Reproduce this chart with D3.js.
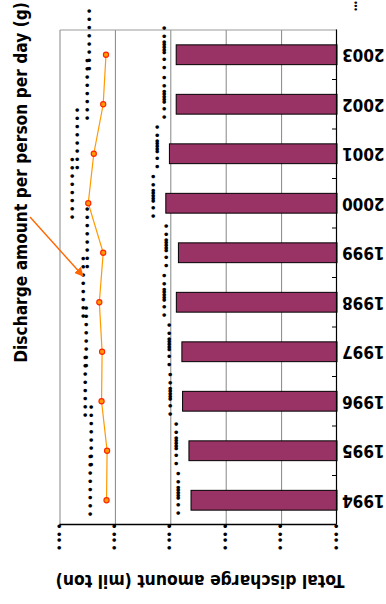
<!DOCTYPE html>
<html>
<head>
<meta charset="utf-8">
<script src="https://cdn.jsdelivr.net/npm/d3@7"></script>
<style>
  html, body { margin: 0; padding: 0; background: #fff; }
  svg { display: block; }
  .cond { font-family: 'DejaVu Sans Condensed', 'DejaVu Sans', sans-serif; font-stretch: condensed; font-weight: bold; }
  .dots { font-family: 'DejaVu Sans', sans-serif; }
</style>
</head>
<body>
<script>
// Fiscal years shown on the category axis
const years = ['1994', '1995', '1996', '1997', '1998', '1999', '2000', '2001', '2002', '2003'];
// Total discharge amount, million tons (bars)
const totalDischarge = [50.54, 50.69, 51.15, 51.20, 51.60, 51.45, 52.36, 52.10, 51.61, 51.61];
// Discharge amount per person per day, grams (line)
const perPersonDay = [1116, 1115, 1125, 1124, 1129, 1122, 1149, 1139, 1122, 1117];
// Value axis ticks (primary and secondary)
const amountTicks = [40, 44, 48, 52, 56, 60];
const perPersonDomain = [700, 1200];
// Texts
const amountTitle = 'Total discharge amount (mil ton)';
const perPersonTitle = 'Discharge amount per person per day (g)';
// Dotted glyph runs used for the tick labels and data labels
const tickGlyphs = '••••';
const barLabelGlyphs = '•••••••••';
const lineLabelGlyphs = '••••••••';
const cornerGlyphs = '•••';

const W = 386, H = 604;
const svg = d3.select('body').append('svg').attr('width', W).attr('height', H);
svg.append('rect').attr('width', W).attr('height', H).attr('fill', '#fff');

// The whole chart is laid out and then turned half a revolution.
const g = svg.append('g').attr('transform', `rotate(180 ${W / 2} ${H / 2})`);

const plot = { left: 49, right: 326, top: 79, bottom: 574 };

const x = d3.scaleLinear().domain([amountTicks[0], amountTicks[amountTicks.length - 1]]).range([plot.left, plot.right]);
const x2 = d3.scaleLinear().domain(perPersonDomain).range([plot.left, plot.right]);
const y = d3.scaleBand().domain(years).range([plot.top, plot.bottom]).paddingInner(0.6).paddingOuter(0.3);
const yc = yr => y(yr) + y.bandwidth() / 2;

const rows = years.map((yr, i) => ({ year: yr, total: totalDischarge[i], pp: perPersonDay[i] }));

// gridlines
g.append('g').selectAll('line').data(amountTicks.slice(1)).join('line')
  .attr('x1', d => x(d)).attr('x2', d => x(d))
  .attr('y1', plot.top).attr('y2', plot.bottom)
  .attr('stroke', '#868686').attr('stroke-width', 1);
// plot frame (far side)
g.append('line').attr('x1', plot.left).attr('x2', plot.right).attr('y1', plot.bottom).attr('y2', plot.bottom)
  .attr('stroke', '#9a9a9a').attr('stroke-width', 1);

// bars
g.append('g').selectAll('rect').data(rows).join('rect')
  .attr('x', x(amountTicks[0]))
  .attr('y', d => y(d.year))
  .attr('width', d => x(d.total) - x(amountTicks[0]))
  .attr('height', y.bandwidth())
  .attr('fill', '#993366')
  .attr('stroke', '#000').attr('stroke-width', 1);

// dotted run helper: glyphs placed along a vertical column centred on (cx, cy)
function dotRun(sel, cx, cy, glyphs, offsets, size) {
  sel.append('text').attr('class', 'dots')
    .attr('transform', `translate(${cx},${cy}) rotate(90)`)
    .attr('x', offsets.join(' '))
    .attr('y', 0)
    .attr('text-anchor', 'middle')
    .attr('dominant-baseline', 'central')
    .attr('font-size', size)
    .attr('fill', '#000')
    .text(glyphs);
}

// bar data labels
const barOffsets = [0, 8.3, 15, 17.7, 20.3, 23, 25.6, 31.3, 39.6].map(v => v - 19.8);
const barLabels = g.append('g');
rows.forEach(d => dotRun(barLabels, x(d.total) + 11.7, yc(d.year) + 7, barLabelGlyphs, barOffsets, 12));

// line data labels
const lineOffsets = d3.range(8).map(i => (i - 3.5) * 8.2);
const lineLabels = g.append('g');
rows.forEach(d => dotRun(lineLabels, x2(d.pp) + 15.5, yc(d.year) + 15, lineLabelGlyphs, lineOffsets, 12));

// per-person line
g.append('path').datum(rows)
  .attr('fill', 'none').attr('stroke', '#FF9900').attr('stroke-width', 1.2)
  .attr('d', d3.line().x(d => x2(d.pp)).y(d => yc(d.year)));
g.append('g').selectAll('circle').data(rows).join('circle')
  .attr('cx', d => x2(d.pp)).attr('cy', d => yc(d.year)).attr('r', 2.6)
  .attr('fill', '#FF9900').attr('stroke', '#FF2200').attr('stroke-width', 1.1);

// value axis
const xAxis = g.append('g').attr('transform', `translate(0,${plot.top})`)
  .call(d3.axisTop(x).tickValues(amountTicks).tickSize(2).tickSizeOuter(0).tickFormat(() => ''));
xAxis.select('.domain').attr('stroke', '#000').attr('stroke-width', 1.5);
xAxis.selectAll('.tick line').attr('stroke', '#000').attr('stroke-width', 1.5);
xAxis.selectAll('.tick').each(function () {
  dotRun(d3.select(this), 0, -12, tickGlyphs, [10.7, 2.7, -3, -10.7], 12);
});

// category axis
const yAxis = g.append('g').attr('transform', `translate(${plot.left},0)`)
  .call(d3.axisLeft(y).tickSize(0).tickPadding(5));
yAxis.select('.domain').attr('stroke', '#000').attr('stroke-width', 1.2);
yAxis.selectAll('text').attr('class', 'cond').attr('font-size', 17).attr('fill', '#000');
// category tick marks at band boundaries, pointing into the plot
const bounds = years.slice(1).map(yr => y(yr) - y.step() * y.paddingInner() / 2);
g.append('g').selectAll('line').data(bounds).join('line')
  .attr('x1', plot.left).attr('x2', plot.left + 5)
  .attr('y1', d => d).attr('y2', d => d)
  .attr('stroke', '#000').attr('stroke-width', 1);

// axis title
g.append('text').attr('class', 'cond')
  .attr('x', (plot.left + plot.right) / 2 - 1.5).attr('y', 29)
  .attr('text-anchor', 'middle').attr('font-size', 17.4).attr('fill', '#000')
  .text(amountTitle);

// callout for the line
g.append('text').attr('class', 'cond')
  .attr('transform', `translate(359,421.5) rotate(90)`)
  .attr('text-anchor', 'middle').attr('font-size', 17.2).attr('fill', '#000')
  .text(perPersonTitle);
const defs = svg.append('defs');
defs.append('marker').attr('id', 'arrowHead').attr('viewBox', '0 0 10 10')
  .attr('refX', 9).attr('refY', 5).attr('markerWidth', 6.5).attr('markerHeight', 6.5)
  .attr('orient', 'auto')
  .append('path').attr('d', 'M0,0 L10,5 L0,10 Z').attr('fill', '#FF6600');
g.append('line').attr('x1', 356).attr('y1', 387).attr('x2', 303).attr('y2', 328)
  .attr('stroke', '#FF6600').attr('stroke-width', 1.4).attr('marker-end', 'url(#arrowHead)');

// corner glyphs
dotRun(g, 30, 598, cornerGlyphs, [-3.3, 0, 3.3], 8);
</script>
</body>
</html>
